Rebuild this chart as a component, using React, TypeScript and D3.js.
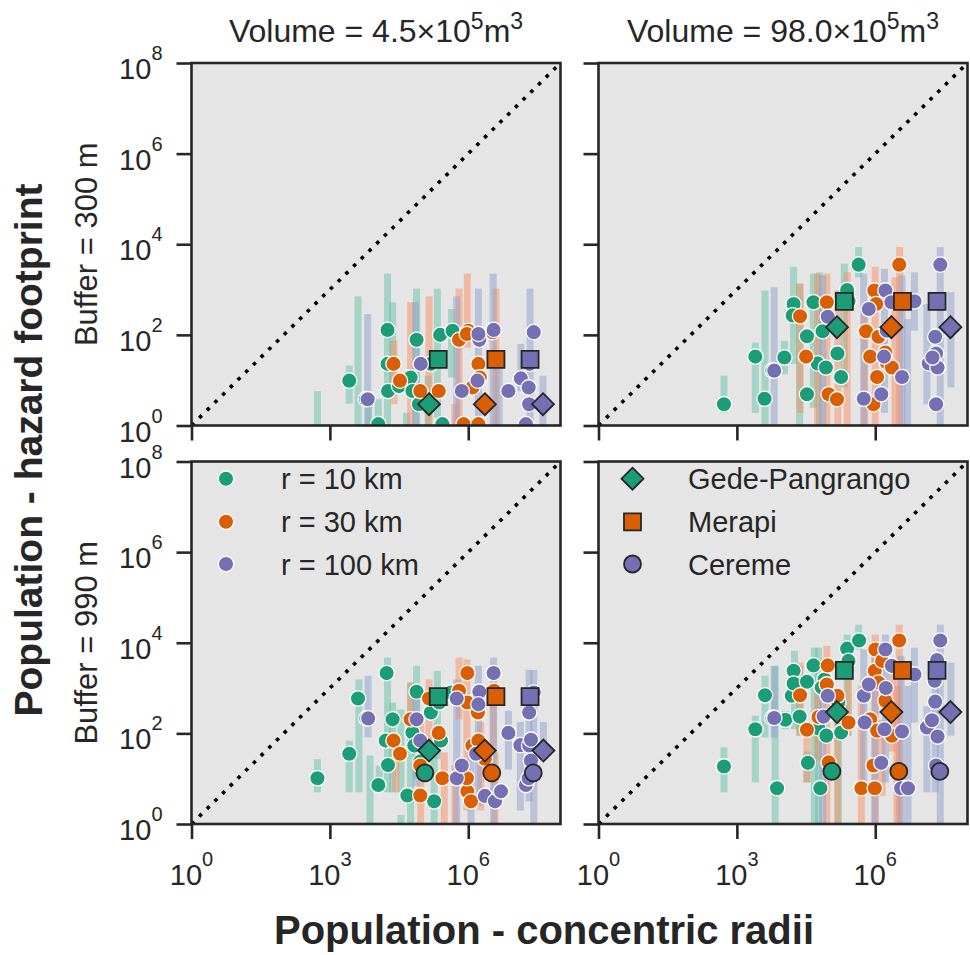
import React, { useEffect, useRef } from 'react';
import * as d3 from 'd3';

// values are log10(population)
const volumes = ['4.5', '98.0'];
const buffers = ['300', '990'];
const radii = ['r = 10 km', 'r = 30 km', 'r = 100 km'];
const volcanoes = ['Gede-Pangrango', 'Merapi', 'Cereme'];
const xTicks = [0, 3, 6];
const yTicks = [0, 2, 4, 6, 8];

const dotColors = ['#1b9e77', '#d95f02', '#7570b3'];
const barColors = ['#66c2a5', '#fc8d62', '#8da0cb'];

// [radius, log x, log y]
const ptsTL = [
  [0, 3.42, 0.99], [0, 4.25, 2.11], [0, 4.25, 1.36], [0, 4.26, 0.76], [0, 4.05, 0.03], [0, 4.88, 1.89], [0, 4.75, 1.06], [0, 4.5, 0.87], [0, 4.79, 0.76], [0, 4.93, 0.47], [0, 5.39, 2.0], [0, 5.66, 2.09], [0, 5.19, 1.36], [0, 5.44, 0.03], [0, 3.78, 0.58],
  [1, 4.38, 1.36], [1, 4.52, 0.99], [1, 4.96, 0.76], [1, 5.36, 0.76], [1, 5.8, 1.89], [1, 6.0, 2.09], [1, 5.97, 2.02], [1, 6.22, 1.36], [1, 6.25, 1.06], [1, 6.09, 0.84], [1, 5.9, 0.03], [1, 6.22, 0.03], [1, 6.53, 2.06],
  [2, 3.82, 0.58], [2, 4.97, 1.36], [2, 5.86, 0.76], [2, 6.2, 0.99], [2, 6.24, 1.89], [2, 6.22, 2.02], [2, 6.55, 2.11], [2, 6.87, 0.76], [2, 7.14, 1.04], [2, 7.31, 0.84], [2, 7.32, 0.47], [2, 7.42, 2.06], [2, 7.25, 0.03], [2, 7.33, 1.36],
];
const ptsTR = [
  [0, 2.72, 0.47], [0, 3.4, 1.52], [0, 3.6, 0.59], [0, 3.77, 1.21], [0, 4.03, 1.5], [0, 4.23, 2.68], [0, 4.21, 2.43], [0, 4.52, 1.97], [0, 4.52, 0.69], [0, 4.66, 2.72], [0, 4.75, 1.37], [0, 4.93, 1.28], [0, 4.86, 2.08], [0, 5.18, 1.59], [0, 5.26, 1.07], [0, 5.39, 2.99], [0, 5.64, 3.55], [0, 5.42, 2.74],
  [1, 4.37, 2.41], [1, 4.5, 1.52], [1, 4.95, 2.72], [1, 4.99, 0.69], [1, 5.17, 0.58], [1, 5.8, 2.08], [1, 5.89, 1.52], [1, 5.96, 0.47], [1, 6.04, 1.07], [1, 5.98, 2.98], [1, 6.02, 2.68], [1, 6.07, 1.96], [1, 6.22, 1.61], [1, 6.25, 1.39], [1, 6.36, 1.28], [1, 6.52, 3.55], [1, 6.47, 2.72],
  [2, 3.81, 1.21], [2, 4.97, 2.4], [2, 5.75, 0.59], [2, 5.86, 2.57], [2, 6.13, 0.69], [2, 6.19, 1.52], [2, 6.22, 2.98], [2, 6.35, 2.72], [2, 6.58, 1.07], [2, 6.85, 2.74], [2, 7.3, 1.96], [2, 7.32, 1.59], [2, 7.16, 1.37], [2, 7.35, 1.28], [2, 7.24, 1.5], [2, 7.32, 0.47], [2, 7.41, 3.55], [2, 6.25, 2.09],
];
const ptsBL = [
  [0, 2.73, 1.01], [0, 3.42, 1.55], [0, 3.61, 2.77], [0, 3.79, 2.33], [0, 4.05, 0.86], [0, 4.23, 3.33], [0, 4.21, 1.84], [0, 4.26, 1.3], [0, 4.36, 2.31], [0, 4.68, 0.63], [0, 4.79, 2.02], [0, 4.88, 2.92], [0, 4.83, 1.73], [0, 5.19, 2.46], [0, 5.26, 0.5], [0, 5.41, 1.84], [0, 5.62, 2.9], [0, 5.37, 2.68], [0, 4.96, 1.38],
  [1, 4.38, 1.84], [1, 4.52, 1.55], [1, 4.75, 2.31], [1, 4.96, 0.63], [1, 4.96, 1.29], [1, 5.15, 2.77], [1, 5.36, 2.01], [1, 5.44, 1.01], [1, 5.8, 2.94], [1, 5.98, 3.33], [1, 5.98, 2.68], [1, 6.21, 2.46], [1, 6.09, 1.73], [1, 6.22, 1.84], [1, 5.98, 0.72], [1, 6.06, 0.5], [1, 5.97, 1.01], [1, 6.36, 1.44], [1, 6.56, 2.94],
  [2, 3.83, 2.33], [2, 4.88, 2.31], [2, 4.96, 1.84], [2, 5.75, 1.01], [2, 5.86, 1.29], [2, 5.75, 2.77], [2, 6.24, 2.92], [2, 6.22, 2.64], [2, 6.55, 3.33], [2, 6.17, 1.55], [2, 6.36, 0.62], [2, 6.58, 0.5], [2, 6.71, 0.72], [2, 6.87, 2.01], [2, 7.13, 1.74], [2, 7.32, 1.73], [2, 7.32, 2.46], [2, 7.42, 2.9], [2, 7.36, 1.4], [2, 7.25, 0.86], [2, 7.31, 1.01], [2, 7.36, 1.86],
];
const ptsBR = [
  [0, 2.72, 1.27], [0, 3.4, 2.09], [0, 3.61, 2.84], [0, 3.77, 2.34], [0, 3.87, 0.79], [0, 4.05, 2.3], [0, 4.23, 3.38], [0, 4.19, 2.83], [0, 4.23, 3.1], [0, 4.36, 2.37], [0, 4.52, 3.14], [0, 4.54, 1.35], [0, 4.66, 3.5], [0, 4.77, 2.11], [0, 4.81, 0.79], [0, 4.94, 1.95], [0, 4.9, 3.19], [0, 4.84, 3.01], [0, 5.26, 2.02], [0, 5.39, 3.87], [0, 5.42, 3.6], [0, 5.65, 4.05], [0, 5.2, 2.68],
  [1, 4.37, 2.84], [1, 4.52, 2.08], [1, 4.77, 2.36], [1, 4.97, 3.5], [1, 4.95, 3.08], [1, 4.99, 1.36], [1, 5.18, 2.83], [1, 5.42, 2.24], [1, 5.7, 0.79], [1, 5.96, 1.29], [1, 5.99, 0.79], [1, 5.99, 3.38], [1, 6.0, 3.85], [1, 5.89, 2.31], [1, 6.04, 2.06], [1, 6.15, 3.6], [1, 6.22, 2.72], [1, 6.36, 1.95], [1, 6.52, 4.05], [1, 6.07, 3.12],
  [2, 3.81, 2.34], [2, 4.88, 2.37], [2, 4.97, 2.83], [2, 5.75, 2.83], [2, 5.77, 2.24], [2, 5.86, 3.08], [2, 6.13, 1.35], [2, 6.2, 2.09], [2, 6.22, 3.85], [2, 6.23, 3.0], [2, 6.36, 3.49], [2, 6.58, 2.04], [2, 6.56, 0.79], [2, 6.71, 0.79], [2, 6.85, 3.3], [2, 7.12, 2.13], [2, 7.23, 2.29], [2, 7.3, 2.7], [2, 7.35, 1.93], [2, 7.29, 3.16], [2, 7.34, 3.62], [2, 7.41, 4.05], [2, 7.32, 1.29],
];

// [radius, log x, log low, log high]
const barsTL = [
  [0, 2.73, 0, 0.76], [0, 3.42, 0.48, 1.32], [0, 3.61, 0, 2.85], [0, 3.84, 0, 0.58], [0, 4.05, 0, 0.58], [0, 4.25, 0, 3.35], [0, 4.36, 0.92, 2.72], [0, 4.66, 0, 0.28], [0, 4.88, 0, 3.02], [0, 5.13, 0, 1.1], [0, 5.33, 0.17, 3.02], [0, 5.64, 1.06, 2.57],
  [1, 4.39, 0.47, 1.87], [1, 4.75, 0, 2.72], [1, 5.15, 0, 2.85], [1, 5.71, 0, 0.47], [1, 5.8, 0, 3.02], [1, 5.98, 1.72, 3.35], [1, 6.6, 0, 3.02],
  [2, 3.82, 0, 2.46], [2, 4.86, 0, 2.72], [2, 5.75, 0, 2.85], [2, 6.22, 0, 3.02], [2, 6.54, 0, 3.35], [2, 6.67, 0, 1.36], [2, 7.14, 0.76, 1.8], [2, 7.34, 0, 3.02], [2, 7.62, 0, 1.1],
];
const barsTR = [
  [0, 2.72, 0.28, 1.1], [0, 3.4, 0.28, 1.83], [0, 3.61, 0, 2.98], [0, 4.03, 1.13, 1.87], [0, 4.23, 1.36, 3.5], [0, 4.36, 0, 3.13], [0, 4.66, 0.39, 3.35], [0, 4.79, 0, 3.38], [0, 5.33, 0.84, 3.57], [0, 5.64, 3.27, 3.94],
  [1, 4.37, 0.28, 3.13], [1, 4.75, 0, 3.35], [1, 4.95, 0, 3.35], [1, 5.19, 0, 2.98], [1, 5.39, 0, 3.38], [1, 5.77, 0, 2.54], [1, 6.0, 0, 3.5], [1, 6.53, 0, 3.94], [1, 6.43, 0, 3.27],
  [2, 3.81, 0, 3.05], [2, 4.86, 0, 3.31], [2, 5.75, 0, 3.35], [2, 6.2, 0.28, 3.46], [2, 6.58, 0, 3.31], [2, 6.7, 0, 2.35], [2, 6.85, 2.09, 3.38], [2, 7.41, 0, 3.94], [2, 7.12, 0.47, 2.68], [2, 7.64, 0.84, 2.94],
];
const barsBL = [
  [0, 2.73, 0.7, 1.43], [0, 3.42, 0.7, 1.84], [0, 3.63, 0.7, 3.19], [0, 3.87, 0, 1.51], [0, 4.07, 0.7, 1.29], [0, 4.25, 0.7, 3.67], [0, 4.36, 0.7, 2.68], [0, 4.54, 0.7, 2.53], [0, 4.54, 0, 0.2], [0, 4.75, 0, 3.12], [0, 4.88, 1.0, 3.49], [0, 5.26, 0, 1.51], [0, 5.33, 1.43, 3.38],
  [1, 4.43, 0.7, 1.65], [1, 4.75, 1.58, 3.12], [1, 4.97, 0, 2.31], [1, 5.15, 1.58, 3.19], [1, 5.48, 0, 1.58], [1, 5.71, 0, 1.3], [1, 5.8, 2.31, 3.67], [1, 5.97, 0.3, 3.63], [1, 6.27, 0.3, 2.25], [1, 6.54, 1.73, 3.12], [1, 6.58, 0, 1.58],
  [2, 3.83, 1.91, 3.27], [2, 4.87, 0.84, 3.05], [2, 5.75, 0, 3.19], [2, 6.06, 0, 1.58], [2, 6.22, 0.4, 3.49], [2, 6.55, 0, 3.67], [2, 6.87, 1.2, 2.5], [2, 7.13, 0.3, 2.25], [2, 7.32, 0.5, 3.4], [2, 7.42, 0, 3.4], [2, 7.63, 1.43, 2.25],
];
const barsBR = [
  [0, 2.72, 0.7, 1.69], [0, 3.4, 0.92, 2.39], [0, 3.61, 1.91, 3.27], [0, 3.83, 0, 3.49], [0, 4.05, 2.09, 2.49], [0, 4.25, 2.09, 3.82], [0, 4.36, 1.95, 3.49], [0, 4.52, 0.92, 1.6], [0, 4.68, 0, 3.89], [0, 4.77, 0, 3.89], [0, 5.2, 0, 2.3], [0, 5.39, 1.95, 4.18], [0, 5.64, 3.85, 4.4],
  [1, 4.37, 1.95, 3.56], [1, 4.52, 0.92, 2.24], [1, 4.75, 1.4, 3.05], [1, 4.95, 0, 3.93], [1, 5.18, 0, 2.7], [1, 5.42, 1.95, 3.6], [1, 5.7, 0, 3.05], [1, 6.0, 0, 4.18], [1, 6.15, 0.62, 2.3], [1, 6.37, 1.6, 3.4], [1, 6.52, 0, 4.4], [1, 6.47, 0, 3.05],
  [2, 3.81, 1.91, 3.49], [2, 4.86, 0, 3.05], [2, 5.75, 0.7, 3.85], [2, 5.99, 0, 3.85], [2, 6.22, 0.92, 4.18], [2, 6.56, 0, 3.71], [2, 6.71, 0, 3.05], [2, 6.85, 2.24, 3.89], [2, 7.12, 0.7, 2.6], [2, 7.3, 0.7, 3.3], [2, 7.41, 0, 4.4], [2, 7.64, 1.95, 3.56],
];

// [volcano, radius, log x, log y]
const sumTL = [[0, 0, 5.15, 0.47], [0, 1, 6.36, 0.47], [0, 2, 7.62, 0.47], [1, 0, 5.35, 1.46], [1, 1, 6.6, 1.46], [1, 2, 7.34, 1.46]];
const sumTR = [[0, 0, 5.17, 2.17], [0, 1, 6.35, 2.17], [0, 2, 7.63, 2.17], [1, 0, 5.33, 2.74], [1, 1, 6.59, 2.74], [1, 2, 7.34, 2.74]];
const sumBL = [[0, 0, 5.15, 1.62], [0, 1, 6.36, 1.62], [0, 2, 7.63, 1.62], [1, 0, 5.35, 2.81], [1, 1, 6.6, 2.81], [1, 2, 7.34, 2.81], [2, 0, 5.06, 1.13], [2, 1, 6.51, 1.13], [2, 2, 7.41, 1.13]];
const sumBR = [[0, 0, 5.17, 2.47], [0, 1, 6.35, 2.47], [0, 2, 7.63, 2.47], [1, 0, 5.33, 3.39], [1, 1, 6.59, 3.39], [1, 2, 7.34, 3.39], [2, 0, 5.06, 1.16], [2, 1, 6.51, 1.16], [2, 2, 7.4, 1.16]];

const panels = [
  { row: 0, col: 0, pts: ptsTL, bars: barsTL, sums: sumTL },
  { row: 0, col: 1, pts: ptsTR, bars: barsTR, sums: sumTR },
  { row: 1, col: 0, pts: ptsBL, bars: barsBL, sums: sumBL },
  { row: 1, col: 1, pts: ptsBR, bars: barsBR, sums: sumBR },
];

const FONT = '"Liberation Sans", Arial, Helvetica, sans-serif';
const INK = '#262626';
const colX = [191.5, 598.5];
const rowY = [63, 461.5];
const PW = 369;
const PH = 362.5;

const p10 = (v: number) => Math.pow(10, v);

function markerPath(kind: number): string {
  if (kind === 0) return 'M0,-11L11,0L0,11L-11,0Z';
  if (kind === 1) return 'M-8.5,-8.5L8.5,-8.5L8.5,8.5L-8.5,8.5Z';
  return d3.symbol().type(d3.symbolCircle).size(Math.PI * 8.5 * 8.5)() as string;
}

function powLabel(sel: any, base: string, exp: string, supSize: number, shift: number) {
  sel.append('tspan').text(base);
  sel.append('tspan').attr('dy', -shift).attr('font-size', supSize).text(exp);
}

export default function App() {
  const ref = useRef<SVGSVGElement>(null);

  useEffect(() => {
    const svg = d3.select(ref.current);
    svg.selectAll('*').remove();
    svg.append('rect').attr('width', 970).attr('height', 955).attr('fill', 'white');
    const defs = svg.append('defs');

    panels.forEach((p, i) => {
      const x0 = colX[p.col];
      const y0 = rowY[p.row];
      const x = d3.scaleLog().domain([1, 1e8]).range([x0, x0 + PW]);
      const y = d3.scaleLog().domain([1, 1e8]).range([y0 + PH, y0]);

      defs.append('clipPath').attr('id', `clip${i}`)
        .append('rect').attr('x', x0).attr('y', y0).attr('width', PW).attr('height', PH);

      svg.append('rect').attr('x', x0).attr('y', y0).attr('width', PW).attr('height', PH).attr('fill', '#e5e5e5');

      const g = svg.append('g').attr('clip-path', `url(#clip${i})`);

      // 1:1 line
      g.append('line')
        .attr('x1', x(1)).attr('y1', y(1)).attr('x2', x(1e8)).attr('y2', y(1e8))
        .attr('stroke', '#000').attr('stroke-width', 3.6)
        .attr('stroke-dasharray', '3.6 7.2');

      // spread bars
      g.selectAll('.bar').data(p.bars).enter().append('rect')
        .attr('x', d => x(p10(d[1])) - 3.5)
        .attr('width', 7)
        .attr('y', d => y(p10(d[3])))
        .attr('height', d => y(p10(d[2])) - y(p10(d[3])))
        .attr('fill', d => barColors[d[0]])
        .attr('opacity', 0.5);

      g.selectAll('.pt').data(p.pts).enter().append('circle')
        .attr('cx', d => x(p10(d[1])))
        .attr('cy', d => y(p10(d[2])))
        .attr('r', 7.7)
        .attr('fill', d => dotColors[d[0]])
        .attr('stroke', 'white').attr('stroke-width', 1.3);

      g.selectAll('.sum').data(p.sums).enter().append('path')
        .attr('transform', d => `translate(${x(p10(d[2]))},${y(p10(d[3]))})`)
        .attr('d', d => markerPath(d[0]))
        .attr('fill', d => dotColors[d[1]])
        .attr('stroke', INK).attr('stroke-width', 1.8);

      // frame
      svg.append('rect').attr('x', x0).attr('y', y0).attr('width', PW).attr('height', PH)
        .attr('fill', 'none').attr('stroke', INK).attr('stroke-width', 2.6);

      // axes
      const xa = svg.append('g').attr('transform', `translate(0,${y0 + PH})`)
        .call(d3.axisBottom(x).tickValues(xTicks.map(p10)).tickSize(15).tickFormat(() => ''));
      const ya = svg.append('g').attr('transform', `translate(${x0},0)`)
        .call(d3.axisLeft(y).tickValues(yTicks.map(p10)).tickSize(15).tickFormat(() => ''));
      [xa, ya].forEach(a => {
        a.select('.domain').remove();
        a.selectAll('line').attr('stroke', INK).attr('stroke-width', 2.6);
      });

      if (p.row === 1) {
        xTicks.forEach(t => {
          const tx = svg.append('text').attr('x', x(p10(t))).attr('y', y0 + PH + 61)
            .attr('text-anchor', 'middle').attr('font-family', FONT).attr('font-size', 29).attr('fill', INK);
          powLabel(tx, '10', String(t), 20, 19);
        });
      }
      if (p.col === 0) {
        yTicks.forEach(t => {
          const ty = svg.append('text').attr('x', x0 - 29).attr('y', y(p10(t)) + 16)
            .attr('text-anchor', 'end').attr('font-family', FONT).attr('font-size', 29).attr('fill', INK);
          powLabel(ty, '10', String(t), 20, 19);
        });
        svg.append('text')
          .attr('transform', `translate(97,${y0 + PH / 2}) rotate(-90)`)
          .attr('text-anchor', 'middle').attr('font-family', FONT).attr('font-size', 31).attr('fill', INK)
          .text(`Buffer = ${buffers[p.row]} m`);
      }
      if (p.row === 0) {
        const tt = svg.append('text').attr('x', x0 + PW / 2).attr('y', 42)
          .attr('text-anchor', 'middle').attr('font-family', FONT).attr('font-size', 32).attr('fill', INK);
        tt.append('tspan').text(`Volume = ${volumes[p.col]}×10`);
        tt.append('tspan').attr('dy', -13).attr('font-size', 23).text('5');
        tt.append('tspan').attr('dy', 13).text('m');
        tt.append('tspan').attr('dy', -13).attr('font-size', 23).text('3');
      }
    });

    // legends
    const legY = [478.7, 521.8, 564];
    radii.forEach((r, i) => {
      svg.append('circle').attr('cx', 226).attr('cy', legY[i]).attr('r', 7.7)
        .attr('fill', dotColors[i]).attr('stroke', 'white').attr('stroke-width', 1.3);
      svg.append('text').attr('x', 281).attr('y', legY[i] + 10.5)
        .attr('font-family', FONT).attr('font-size', 29).attr('fill', INK).text(r);
    });
    volcanoes.forEach((v, i) => {
      svg.append('path').attr('transform', `translate(632.5,${legY[i]})`).attr('d', markerPath(i))
        .attr('fill', dotColors[i]).attr('stroke', INK).attr('stroke-width', 1.8);
      svg.append('text').attr('x', 688).attr('y', legY[i] + 10.5)
        .attr('font-family', FONT).attr('font-size', 29).attr('fill', INK).text(v);
    });

    svg.append('text').attr('x', 544).attr('y', 944).attr('text-anchor', 'middle')
      .attr('font-family', FONT).attr('font-size', 40).attr('font-weight', 'bold').attr('fill', INK)
      .text('Population - concentric radii');
    svg.append('text').attr('transform', 'translate(42,450) rotate(-90)').attr('text-anchor', 'middle')
      .attr('font-family', FONT).attr('font-size', 39).attr('font-weight', 'bold').attr('fill', INK)
      .text('Population - hazard footprint');
  }, []);

  return (
    <svg ref={ref} width={970} height={955} viewBox="0 0 970 955"
      style={{ position: 'absolute', left: 0, top: 0, display: 'block' }} />
  );
}
